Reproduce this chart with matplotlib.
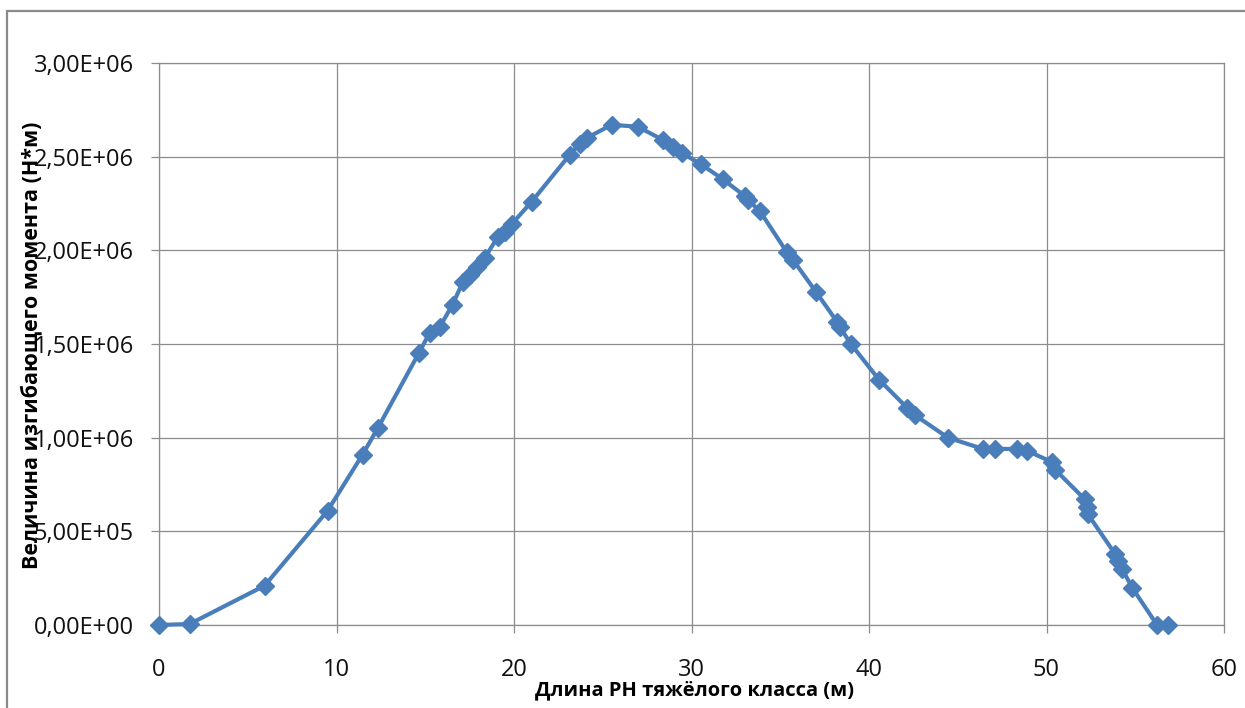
import matplotlib
matplotlib.use("Agg")
import matplotlib.pyplot as plt
from matplotlib.patches import Rectangle
from matplotlib.ticker import FuncFormatter, MultipleLocator

# Data
length_m = [0.0, 1.72, 5.95, 9.5, 11.47, 12.32, 14.63, 15.25, 15.81, 16.54,
            17.11, 17.5, 17.9, 18.35, 19.08, 19.48, 19.87, 21.0, 23.14, 23.7,
            24.1, 25.5, 26.97, 28.38, 28.95, 29.45, 30.53, 31.76, 33.0, 33.17,
            33.85, 35.37, 35.71, 37.0, 38.19, 38.36, 38.98, 40.56, 42.14, 42.59,
            44.45, 46.42, 47.09, 48.34, 48.9, 50.31, 50.48, 52.17, 52.28, 52.34,
            53.86, 54.03, 54.26, 54.82, 56.23, 56.85]
moment_Nm = [0.0, 0.005e6, 0.21e6, 0.61e6, 0.91e6, 1.05e6, 1.45e6, 1.56e6, 1.59e6, 1.71e6,
             1.83e6, 1.87e6, 1.91e6, 1.96e6, 2.07e6, 2.10e6, 2.14e6, 2.26e6, 2.51e6, 2.57e6,
             2.60e6, 2.67e6, 2.66e6, 2.59e6, 2.55e6, 2.52e6, 2.46e6, 2.38e6, 2.29e6, 2.27e6,
             2.21e6, 1.99e6, 1.95e6, 1.78e6, 1.62e6, 1.59e6, 1.50e6, 1.31e6, 1.16e6, 1.12e6,
             1.00e6, 0.94e6, 0.94e6, 0.94e6, 0.93e6, 0.87e6, 0.83e6, 0.67e6, 0.63e6, 0.59e6,
             0.38e6, 0.34e6, 0.30e6, 0.20e6, 0.0, 0.0]

x_label = "Длина РН тяжёлого класса (м)"
y_label = "Величина изгибающего момента (Н*м)"

plt.rcParams['font.family'] = ['Open Sans', 'DejaVu Sans']

W, H = 1245, 708
fig = plt.figure(figsize=(W / 100, H / 100), dpi=100)
ax = fig.add_axes([159 / W, 1 - 625 / H, (1224 - 159) / W, (625 - 63) / H])

grid_c = '#8c8c8c'
line_c = '#4a7ebb'

ax.plot(length_m, moment_Nm, color=line_c, lw=3, marker='D', ms=9,
        mec=line_c, mfc=line_c, zorder=3, clip_on=False)

ax.set_xlim(0, 60)
ax.set_ylim(0, 3e6)
ax.xaxis.set_major_locator(MultipleLocator(10))
ax.yaxis.set_major_locator(MultipleLocator(5e5))
ax.yaxis.set_major_formatter(FuncFormatter(lambda v, p: f"{v:.2E}".replace('.', ',')))

ax.grid(True, color=grid_c, lw=0.9)
ax.set_axisbelow(True)
for s in ax.spines.values():
    s.set_color(grid_c)
    s.set_linewidth(0.9)

ax.tick_params(axis='y', direction='out', length=6, width=0.9, color=grid_c,
               pad=12, labelsize=17, labelcolor='#111111')
ax.tick_params(axis='x', direction='out', length=6, width=0.9, color=grid_c,
               pad=18, labelsize=17, labelcolor='#111111')

ax.set_xlabel(x_label, fontsize=14.5, fontweight='bold')
ax.set_ylabel(y_label, fontsize=15.5, fontweight='bold')
ax.xaxis.set_label_coords(0.503, -0.098)
ax.yaxis.set_label_coords(-0.11, 0.498)

# Outer chart border
fig.patches.append(Rectangle((7 / W, -0.05), 1.1, 1 - 11 / H + 0.05,
                             transform=fig.transFigure, fill=False,
                             edgecolor='#8a8a8a', lw=1.6, clip_on=False))

fig.savefig('out.png', dpi=100)
